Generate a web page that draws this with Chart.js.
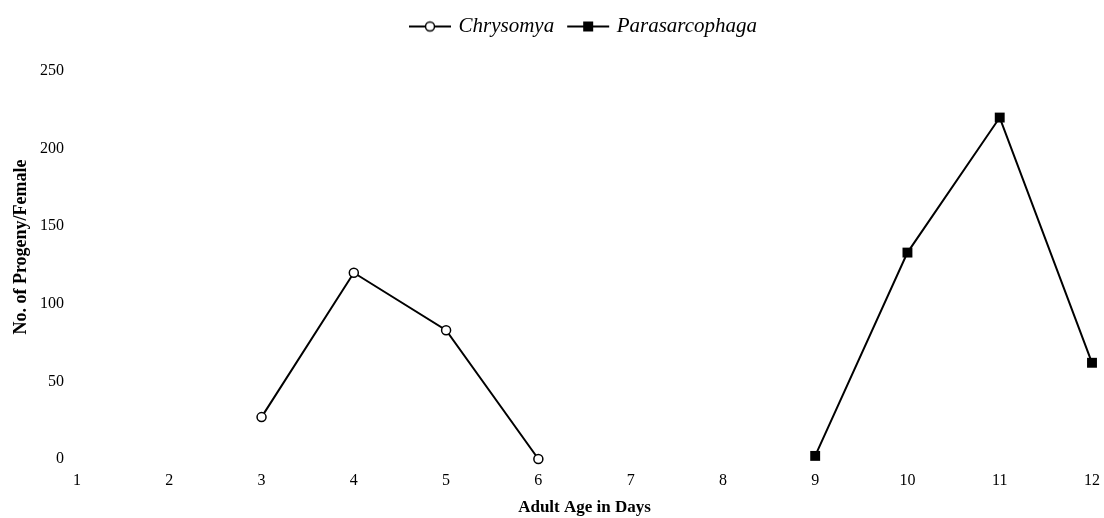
<!DOCTYPE html>
<html>
<head>
<meta charset="utf-8">
<script src="https://cdn.jsdelivr.net/npm/chart.js@4"></script>
<style>
  html, body { margin: 0; padding: 0; background: #fff; }
  #wrap { width: 1104px; height: 518px; }
</style>
</head>
<body>
<div id="wrap"><canvas id="grafico"></canvas></div>
<script>
var dias = ["1","2","3","4","5","6","7","8","9","10","11","12"];
var chrysomya = [null, null, 27, 120, 83, 0, null, null, null, null, null, null];
var parasarcophaga = [null, null, null, null, null, null, null, null, 2, 133, 220, 62];
var ticksY = [0, 50, 100, 150, 200, 250];

// marker for the legend: a short line with the point on it
function marcaLeyenda(tipo){
	var c = document.createElement('canvas');
	c.width = 44; c.height = 14;
	var g = c.getContext('2d');
	g.strokeStyle = '#000';
	g.lineWidth = 2;
	g.beginPath(); g.moveTo(1, 7); g.lineTo(43, 7); g.stroke();
	if (tipo == 'circle') {
		g.fillStyle = '#fff';
		g.lineWidth = 1.5;
		g.beginPath(); g.arc(22, 7, 4.5, 0, Math.PI*2); g.fill(); g.stroke();
	} else {
		g.fillStyle = '#000';
		g.fillRect(17, 2, 10, 10);
	}
	return c;
}

// legend: fixed height and centred over the plot area
var ajusteLeyenda = {
	id: 'ajusteLeyenda',
	beforeInit: function(chart){
		var fitOrig = chart.legend.fit;
		chart.legend.fit = function(){
			fitOrig.call(this);
			this.height = 71;
		};
	},
	afterLayout: function(chart){
		var a = chart.chartArea;
		var dx = (a.left + a.right)/2 - (chart.legend.left + chart.legend.right)/2;
		chart.legend.left += dx;
		chart.legend.right += dx;
	}
};

var serif = "'Liberation Serif', 'Times New Roman', serif";

var ctx = document.getElementById('grafico').getContext('2d');
window.lineal = new Chart(ctx, {
	type: 'line',
	data: {
		labels: dias,
		datasets: [{
			label: 'Chrysomya',
			data: chrysomya,
			borderColor: '#000',
			borderWidth: 2,
			pointStyle: 'circle',
			pointRadius: 4.5,
			pointBorderWidth: 1.5,
			pointBackgroundColor: '#fff',
			pointBorderColor: '#000',
			spanGaps: false,
			clip: false
		}, {
			label: 'Parasarcophaga',
			data: parasarcophaga,
			borderColor: '#000',
			borderWidth: 2,
			pointStyle: 'rect',
			pointRadius: 7,
			pointBorderWidth: 0,
			pointBackgroundColor: '#000',
			pointBorderColor: '#000',
			spanGaps: false,
			clip: false
		}]
	},
	plugins: [ajusteLeyenda],
	options: {
		responsive: true,
		maintainAspectRatio: false,
		animation: false,
		events: [],
		layout: { padding: { left: 0, right: 12, top: 0, bottom: 0 } },
		plugins: {
			tooltip: { enabled: false },
			legend: {
				display: true,
				position: 'top',
				labels: {
					usePointStyle: true,
					pointStyleWidth: 36,
					color: '#000',
					font: { family: serif, size: 21, style: 'italic' },
					padding: 16,
					generateLabels: function(chart){
						return chart.data.datasets.map(function(ds, i){
							return {
								text: ds.label,
								pointStyle: marcaLeyenda(ds.pointStyle),
								fillStyle: '#000',
								strokeStyle: '#000',
								lineWidth: 0,
								fontColor: '#000',
								datasetIndex: i,
								hidden: false
							};
						});
					}
				}
			}
		},
		scales: {
			x: {
				offset: false,
				grid: { display: false },
				border: { display: false },
				ticks: { color: '#000', font: { family: serif, size: 16 }, padding: 4, maxRotation: 0 },
				title: {
					display: true,
					text: 'Adult Age in Days',
					color: '#000',
					font: { family: serif, size: 17, weight: 'bold' },
					padding: { top: 4, bottom: 0 }
				},
				afterFit: function(s){ s.height = 59; }
			},
			y: {
				min: 0,
				max: 250,
				grid: { display: false, drawTicks: false },
				border: { display: false },
				afterBuildTicks: function(s){
					s.ticks = ticksY.map(function(v){ return { value: v }; });
				},
				ticks: { color: '#000', font: { family: serif, size: 16 }, padding: 13 },
				title: {
					display: true,
					// leading spaces move the title a little above the middle, as in the original
					text: '        No. of Progeny/Female',
					color: '#000',
					font: { family: serif, size: 18, weight: 'bold' },
					padding: { top: 11, bottom: 0 }
				},
				afterFit: function(s){ s.width = 77; }
			}
		}
	}
});
</script>
</body>
</html>
